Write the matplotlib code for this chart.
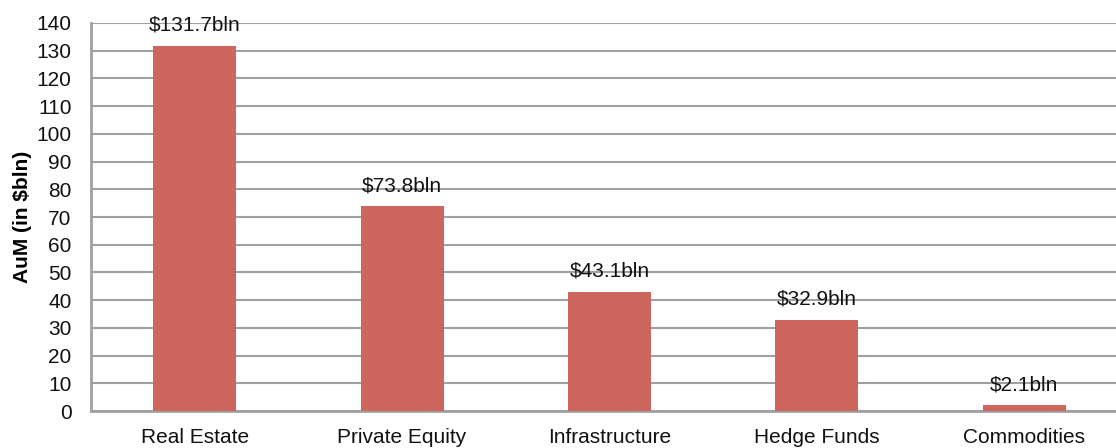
import matplotlib
matplotlib.use("Agg")
from matplotlib import pyplot as plt

plt.rcParams['font.family'] = ['Liberation Sans', 'DejaVu Sans']

# AuM by asset class
categories = ['Real Estate', 'Private Equity', 'Infrastructure', 'Hedge Funds', 'Commodities']
aum_values = [131.7, 73.8, 43.1, 32.9, 2.1]
bar_labels = ['$131.7bln', '$73.8bln', '$43.1bln', '$32.9bln', '$2.1bln']
y_ticks = list(range(0, 141, 10))

fig = plt.figure(figsize=(11.16, 4.48), dpi=100)
# axes runs a bit past the right edge, like the cropped original
ax = fig.add_axes([91 / 1116, 37 / 448, 1037 / 1116, 388 / 448])

x = range(len(categories))
ax.bar(x, aum_values, width=0.4, color='#cc665f', zorder=3)

for i, (v, lab) in enumerate(zip(aum_values, bar_labels)):
    ax.annotate(lab, (i, v), xytext=(0, 8), textcoords='offset points',
                ha='center', va='bottom', fontsize=15, color='#111111', zorder=4)

ax.set_xlim(-0.5, len(categories) - 0.5)
ax.set_ylim(0, 140)
ax.set_yticks(y_ticks)
ax.set_xticks(list(x))
ax.set_xticklabels(categories, fontsize=15)
ax.tick_params(axis='y', labelsize=15, length=0, pad=14, labelcolor='#111111')
ax.tick_params(axis='x', length=0, pad=12, labelcolor='#111111')

ax.grid(axis='y', color='#a0a0a0', linewidth=1.5, zorder=0)
for side in ['top', 'right']:
    ax.spines[side].set_visible(False)
for side in ['left', 'bottom']:
    ax.spines[side].set_color('#a0a0a0')
    ax.spines[side].set_linewidth(2)

ax.set_ylabel('AuM (in $bln)', fontsize=15, fontweight='bold', labelpad=3)

fig.savefig('out.png', dpi=100)
